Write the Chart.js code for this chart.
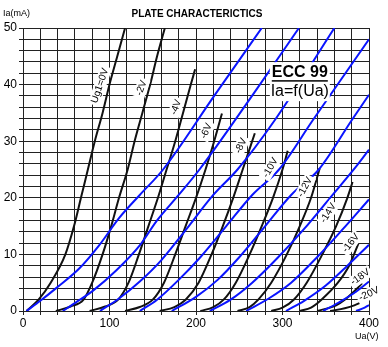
<!DOCTYPE html>
<html>
<head>
<meta charset="utf-8">
<script src="https://cdn.jsdelivr.net/npm/chart.js@4.4.0/dist/chart.umd.min.js"></script>
<style>
html, body { margin: 0; padding: 0; background: #fff; }
#wrap { width: 388px; height: 347px; position: relative; }
</style>
</head>
<body>
<div id="wrap"><canvas id="plate"></canvas></div>
<script>
// Ug1 curves (black), points are [Ua in V, Ia in mA]
const ug0   = [[4,0],[18,2],[32,5],[49,10],[59,15],[67,20],[75,25],[83,30],[92,35],[100,40],[109,45],[118,50]];
const ug2   = [[38,0],[55,0.8],[70,2],[80,5],[92,10],[102,15],[111,20],[121,25],[129,30],[138,35],[147,40],[155,45],[164,50]];
const ug4   = [[77,0],[95,0.8],[110,2],[122,5],[134,10],[145,15],[156,20],[166,25],[176,30],[185,35],[194,40],[199,42.7]];
const ug6   = [[118,0],[135,0.7],[150,2],[163,5],[176,10],[188,15],[200,20],[211,25],[221,30],[230,34.9]];
const ug8   = [[158,0],[175,0.7],[188,2],[203,5],[218,10],[231,15],[243,20],[254,25],[268,31.4]];
const ug10  = [[205,0],[220,0.7],[232,2],[246,5],[262,10],[276,15],[289,20],[300,25],[306,28.3]];
const ug12  = [[248,0],[262,0.7],[272,2],[287,5],[305,10],[320,15],[333,20],[343,25.2]];
const ug14  = [[287,0],[300,0.6],[313,2],[328,5],[346,10],[362,15],[375,20],[381,22.8]];
const ug16  = [[320,0],[333,0.6],[345,2],[364,5],[377,8],[388,12]];
const ug18  = [[340,0],[362,1],[372,2],[383,3.5],[392,4.9]];
const ug20  = [[355,0],[372,0.5],[383,1],[392,1.6]];

// blue family
const blue1  = [[4,0],[20,1.8],[38,4],[65,7.5],[88,11.6],[111,16.4],[135,20.5],[162,25],[221,38],[276,50]];
const blue2  = [[46,0],[62,1.6],[81,3.6],[108,7.2],[135,11.6],[155,16],[180,20.5],[204,25],[267,38.5],[319,50]];
const blue3  = [[89,0],[111,2.2],[135,5.2],[160,9],[188,14.3],[220,20.5],[248,25],[291,33.7],[360,50]];
const blue4  = [[135,0],[155,2],[180,5.5],[205,9.5],[235,15],[265,20.5],[296,25],[335,33.7],[400,48]];
const blue5  = [[172,0],[200,2.5],[225,5.5],[250,9.5],[280,15],[310,20.5],[342,25],[380,33.7],[400,38.2]];
const blue6  = [[216,0],[240,2],[265,5],[295,9.5],[325,14.5],[355,20],[385,25.5],[400,28.5]];
const blue7  = [[258,0],[285,2.3],[310,5],[340,9.5],[370,14.5],[400,19.7]];
const blue8  = [[304,0],[325,1.8],[350,4.5],[375,8],[400,11.7]];
const blue9  = [[347,0],[365,1.5],[385,3.4],[400,5.2]];
const blue10 = [[385,0],[395,0.6],[400,1.06]];

const blackCurves = [ug0, ug2, ug4, ug6, ug8, ug10, ug12, ug14, ug16, ug18, ug20];
const blueCurves = [blue1, blue2, blue3, blue4, blue5, blue6, blue7, blue8, blue9, blue10];

// curve names, placed along the curves
const curveLabels = [
  { text: 'Ug1=0V', x: 89,  y: 39.8, rot: -71 },
  { text: '-2V',    x: 137, y: 39.4, rot: -70 },
  { text: '-4V',    x: 177, y: 36,   rot: -70 },
  { text: '-6V',    x: 212, y: 31.8, rot: -66 },
  { text: '-8V',    x: 252, y: 29.2, rot: -65 },
  { text: '-10V',   x: 286, y: 25.3, rot: -60 },
  { text: '-12V',   x: 326, y: 21.9, rot: -62 },
  { text: '-14V',   x: 353, y: 17.3, rot: -58 },
  { text: '-16V',   x: 379, y: 12,   rot: -52 },
  { text: '-18V',   x: 390, y: 6,    rot: -35 },
  { text: '-20V',   x: 400, y: 3,    rot: -25 }
];

const toPts = arr => arr.map(p => ({ x: p[0], y: p[1] }));

const datasets = [];
blueCurves.forEach(c => datasets.push({
  data: toPts(c), borderColor: '#0a14ff', borderWidth: 2, pointRadius: 0,
  cubicInterpolationMode: 'monotone', fill: false
}));
blackCurves.forEach(c => datasets.push({
  data: toPts(c), borderColor: '#111', borderWidth: 2, pointRadius: 0,
  cubicInterpolationMode: 'monotone', fill: false
}));

const textPlugin = {
  id: 'texts',
  afterDatasetsDraw(chart) {
    const { ctx, scales: { x, y } } = chart;
    ctx.save();
    ctx.font = '10px "Liberation Sans", Arial, sans-serif';
    ctx.textAlign = 'center';
    ctx.textBaseline = 'middle';
    curveLabels.forEach(l => {
      ctx.save();
      ctx.translate(x.getPixelForValue(l.x), y.getPixelForValue(l.y));
      ctx.rotate(l.rot * Math.PI / 180);
      const w = ctx.measureText(l.text).width;
      ctx.fillStyle = '#fff';
      ctx.fillRect(-w / 2 - 2, -6, w + 4, 12);
      ctx.fillStyle = '#000';
      ctx.fillText(l.text, 0, 0);
      ctx.restore();
    });

    // tube name box
    const bx = x.getPixelForValue(320), by1 = y.getPixelForValue(42.2), by2 = y.getPixelForValue(38.9);
    ctx.fillStyle = '#fff';
    ctx.fillRect(bx - 30, by1 - 10, 60, 39);
    ctx.fillStyle = '#000';
    ctx.font = 'bold 16px "Liberation Sans", Arial, sans-serif';
    ctx.fillText('ECC 99', bx, by1);
    const w1 = ctx.measureText('ECC 99').width;
    ctx.fillRect(bx - w1 / 2, by1 + 8, w1, 1.5);
    ctx.font = '16px "Liberation Sans", Arial, sans-serif';
    ctx.fillText('Ia=f(Ua)', bx, by2 + 1);
    ctx.restore();
  },
  afterDraw(chart) {
    const { ctx } = chart;
    ctx.save();
    ctx.fillStyle = '#000';
    ctx.textBaseline = 'middle';
    ctx.textAlign = 'center';
    ctx.font = 'bold 10px "Liberation Sans", Arial, sans-serif';
    ctx.fillText('PLATE CHARACTERICTICS', 197, 14);
    ctx.textAlign = 'left';
    ctx.font = '9px "Liberation Sans", Arial, sans-serif';
    ctx.fillText('Ia(mA)', 3, 14);
    ctx.fillText('Ua(V)', 355, 337);
    ctx.restore();
  }
};

new Chart(document.getElementById('plate'), {
  type: 'line',
  data: { datasets },
  options: {
    responsive: true,
    maintainAspectRatio: false,
    animation: false,
    layout: { padding: { top: 28, right: 19, left: 0, bottom: 0 } },
    plugins: { legend: { display: false }, tooltip: { enabled: false } },
    scales: {
      x: {
        type: 'linear', min: 0, max: 400,
        afterFit: s => { s.height = 36; },
        border: { color: '#222', width: 1 },
        grid: { color: '#222', lineWidth: 1, tickLength: 4 },
        ticks: {
          stepSize: 20, autoSkip: false, maxRotation: 0, padding: 1,
          color: '#000', font: { family: '"Liberation Sans", Arial, sans-serif', size: 12 },
          callback: v => (v % 100 === 0 ? v : '')
        }
      },
      y: {
        type: 'linear', min: 0, max: 50,
        afterFit: s => { s.width = 23; },
        border: { color: '#222', width: 1 },
        grid: { color: '#222', lineWidth: 1, tickLength: 4 },
        ticks: {
          stepSize: 2, autoSkip: false, padding: 2,
          color: '#000', font: { family: '"Liberation Sans", Arial, sans-serif', size: 12 },
          callback: v => (v % 10 === 0 ? v : '')
        }
      }
    }
  },
  plugins: [textPlugin]
});
</script>
</body>
</html>
